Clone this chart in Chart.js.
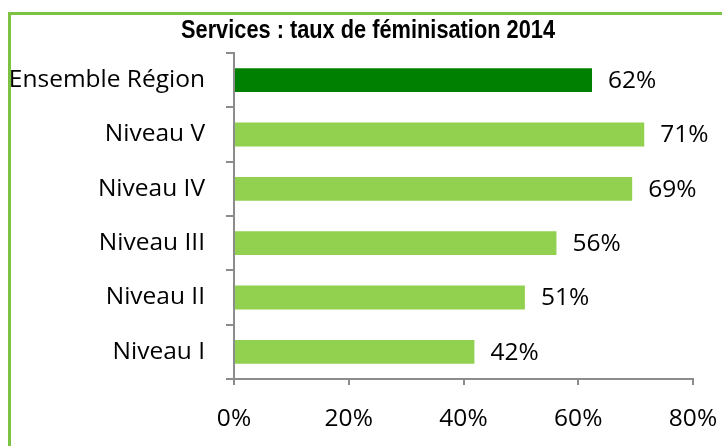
<!DOCTYPE html>
<html><head><meta charset="utf-8">
<script src="https://cdn.jsdelivr.net/npm/chart.js@4/dist/chart.umd.min.js"></script>
<style>html,body{margin:0;padding:0;background:#fff}canvas{display:block}</style>
</head><body>
<canvas id="c" width="722" height="446"></canvas>
<script>
const titleText = 'Services : taux de féminisation 2014';
const categories = ['Ensemble Région','Niveau V','Niveau IV','Niveau III','Niveau II','Niveau I'];
const values = [62.4,71.5,69.4,56.2,50.7,41.9];
const valueLabelsText = ['62%','71%','69%','56%','51%','42%'];
const barColors = ['#008000','#92D050','#92D050','#92D050','#92D050','#92D050'];
const xTicks = [0,20,40,60,80];

const LABEL_FONT = "'Open Sans', sans-serif";
const LABEL_SIZE = 24.5;

const framePlugin = {
  id:'frame',
  beforeDraw(chart){
    const ctx = chart.ctx;
    ctx.save();
    ctx.fillStyle='#fff';
    ctx.fillRect(0,0,chart.width,chart.height);
    ctx.fillStyle='#7DC242';
    ctx.fillRect(8,12,chart.width-8,3);
    ctx.fillRect(8,12,3,chart.height-12);
    ctx.fillStyle='#000';
    ctx.font="bold 25px 'Liberation Sans', Arial, sans-serif";
    ctx.textAlign='center';
    ctx.textBaseline='alphabetic';
    const w = ctx.measureText(titleText).width;
    const sx = 374 / w;
    ctx.translate(368, 38);
    ctx.scale(sx, 1);
    ctx.fillText(titleText, 0, 0);
    ctx.restore();
  }
};
const valueLabels = {
  id:'valueLabels',
  afterDatasetsDraw(chart){
    const ctx = chart.ctx;
    const meta = chart.getDatasetMeta(0);
    ctx.save();
    ctx.fillStyle='#000';
    ctx.font=LABEL_SIZE+"px "+LABEL_FONT;
    ctx.textAlign='left';
    ctx.textBaseline='middle';
    meta.data.forEach((bar,i)=>{
      ctx.fillText(valueLabelsText[i], bar.x+16, bar.y+1);
    });
    ctx.restore();
  }
};

new Chart(document.getElementById('c'),{
  type:'bar',
  data:{labels:categories,datasets:[{data:values,backgroundColor:barColors,borderWidth:0,barPercentage:0.44,categoryPercentage:1}]},
  options:{
    indexAxis:'y',
    responsive:false,
    animation:false,
    devicePixelRatio:1,
    layout:{padding:{top:53,right:29,left:0,bottom:0}},
    plugins:{legend:{display:false},tooltip:{enabled:false},title:{display:false}},
    scales:{
      x:{
        min:0,max:80,
        afterBuildTicks(s){ s.ticks = xTicks.map(v=>({value:v})); },
        afterFit(s){ s.height = 67; s.paddingLeft = 0; s.paddingRight = 0; },
        grid:{drawOnChartArea:false,drawTicks:true,tickLength:6,color:'#8c8c8c',lineWidth:2},
        border:{display:true,color:'#8c8c8c',width:2},
        ticks:{color:'#000',font:{family:LABEL_FONT,size:LABEL_SIZE},padding:19,callback:v=>v+'%'}
      },
      y:{
        afterFit(s){ s.width = 234; s.paddingTop = 0; s.paddingBottom = 0; },
        grid:{offset:true,drawOnChartArea:false,drawTicks:true,tickLength:8,color:'#8c8c8c',lineWidth:2},
        border:{display:true,color:'#8c8c8c',width:2},
        ticks:{color:'#000',font:{family:LABEL_FONT,size:LABEL_SIZE},padding:21}
      }
    }
  },
  plugins:[framePlugin,valueLabels]
});
</script>
</body></html>
